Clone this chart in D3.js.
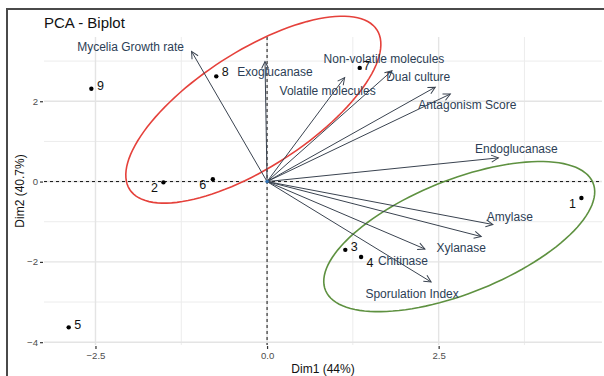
<!DOCTYPE html>
<html>
<head>
<meta charset="utf-8">
<script src="https://cdn.jsdelivr.net/npm/d3@7"></script>
<style>
  html, body { margin: 0; padding: 0; background: #fff; }
  svg { display: block; font-family: "Liberation Sans", Arial, sans-serif; }
</style>
</head>
<body>
<svg id="chart" width="604" height="376"></svg>
<script>
// Individuals (isolates) – coordinates on Dim1 / Dim2
const indLabels = ["1", "2", "3", "4", "5", "6", "7", "8", "9"];
const indDim1   = [4.58, -1.51, 1.14, 1.37, -2.89, -0.79, 1.35, -0.74, -2.56];
const indDim2   = [-0.41, -0.02, -1.70, -1.88, -3.63, 0.06, 2.83, 2.62, 2.31];

// Variables – loading arrows
const varNames = ["Mycelia Growth rate", "Exoglucanase", "Volatile molecules",
  "Non-volatile molecules", "Dual culture", "Antagonism Score", "Endoglucanase",
  "Amylase", "Xylanase", "Chitinase", "Sporulation Index"];
const varDim1 = [-1.10, -0.03, 1.13, 1.82, 2.45, 2.67, 3.37, 3.29, 3.12, 2.30, 2.39];
const varDim2 = [3.24, 2.99, 2.59, 2.76, 2.35, 2.18, 0.59, -1.07, -1.37, -1.68, -2.50];

// Group concentration ellipses (centre, semi-axes and tilt in Dim units)
const ellGroups = ["A", "B"];
const ellCx    = [-0.20, 2.80];
const ellCy    = [1.79, -1.37];
const ellA     = [2.76, 2.43];
const ellB     = [1.12, 1.22];
const ellAngle = [54, 42.4];

// Axis ticks
const xMajor = [-2.5, 0, 2.5];
const xMinor = [-1.25, 1.25, 3.75];
const yMajor = [-4, -2, 0, 2];
const yMinor = [-3, -1, 1, 3];

// Label placement (pixel nudges from the mark)
const indNudge = {"1": [-9, 6], "2": [-9, 6], "3": [9, -3], "4": [9, 6], "5": [9, -2],
                  "6": [-10, 6], "7": [7, -2], "8": [9, -4], "9": [9, -3]};
const varNudge = {"Mycelia Growth rate": [-61, -4], "Exoglucanase": [10, 11],
  "Volatile molecules": [-17, 13], "Non-volatile molecules": [-8, -12],
  "Dual culture": [-17, -10], "Antagonism Score": [17, 11], "Endoglucanase": [18, -9],
  "Amylase": [17, -8], "Xylanase": [-20, 11], "Chitinase": [-22, 12],
  "Sporulation Index": [-19, 12]};
const ellColors = {"A": "#e5413b", "B": "#5e9140"};

const svg = d3.select("#chart");
const panel = {left: 44, right: 602, top: 37, bottom: 345};

const x = d3.scaleLinear().domain([-3.25, 4.88]).range([panel.left, panel.right]);
const y = d3.scaleLinear().domain([-4.07, 3.6]).range([panel.bottom, panel.top]);

// outer frame
svg.append("rect").attr("x", 7).attr("y", 9).attr("width", 640).attr("height", 420)
  .attr("fill", "none").attr("stroke", "#4a4a4a").attr("stroke-width", 2);

// grid
const grid = svg.append("g");
grid.selectAll(".gxm").data(xMinor).join("line")
  .attr("x1", d => x(d)).attr("x2", d => x(d)).attr("y1", panel.top).attr("y2", panel.bottom)
  .attr("stroke", "#ececec").attr("stroke-width", 1);
grid.selectAll(".gym").data(yMinor).join("line")
  .attr("y1", d => y(d)).attr("y2", d => y(d)).attr("x1", panel.left).attr("x2", panel.right)
  .attr("stroke", "#ececec").attr("stroke-width", 1);
grid.selectAll(".gx").data(xMajor).join("line")
  .attr("x1", d => x(d)).attr("x2", d => x(d)).attr("y1", panel.top).attr("y2", panel.bottom)
  .attr("stroke", "#e4e4e4").attr("stroke-width", 1.4);
grid.selectAll(".gy").data(yMajor).join("line")
  .attr("y1", d => y(d)).attr("y2", d => y(d)).attr("x1", panel.left).attr("x2", panel.right)
  .attr("stroke", "#e4e4e4").attr("stroke-width", 1.4);

// axes
const xAxis = d3.axisBottom(x).tickValues(xMajor).tickFormat(d3.format(".1f")).tickSize(3).tickPadding(3);
const yAxis = d3.axisLeft(y).tickValues(yMajor).tickFormat(d3.format("d")).tickSize(3).tickPadding(2);
const gx = svg.append("g").attr("transform", `translate(0,${y(-4.07) + 1})`).call(xAxis);
const gy = svg.append("g").attr("transform", `translate(${panel.left - 1},0)`).call(yAxis);
[gx, gy].forEach(g => {
  g.select(".domain").remove();
  g.selectAll(".tick line").attr("stroke", "#333").attr("stroke-width", 1.2);
  g.selectAll(".tick text").attr("fill", "#4d4d4d").style("font-size", "9.6px")
    .style("font-family", "'Liberation Sans', Arial, sans-serif");
});

// reference lines through the origin
svg.append("line").attr("x1", panel.left).attr("x2", panel.right).attr("y1", y(0)).attr("y2", y(0))
  .attr("stroke", "#111").attr("stroke-dasharray", "3,3").attr("stroke-width", 1);
svg.append("line").attr("x1", x(0)).attr("x2", x(0)).attr("y1", panel.top).attr("y2", panel.bottom)
  .attr("stroke", "#111").attr("stroke-dasharray", "3,3").attr("stroke-width", 1);

// ellipses
const ellData = ellGroups.map((g, i) => ({g, cx: ellCx[i], cy: ellCy[i], a: ellA[i], b: ellB[i], ang: ellAngle[i]}));
svg.selectAll(".ell").data(ellData).join("path")
  .attr("fill", "none").attr("stroke", d => ellColors[d.g]).attr("stroke-width", 1.6)
  .attr("d", d => {
    const th = d.ang * Math.PI / 180;
    const pts = d3.range(0, 361, 3).map(t => {
      const r = t * Math.PI / 180;
      const ex = d.a * Math.cos(r), ey = d.b * Math.sin(r);
      return [x(d.cx + ex * Math.cos(th) - ey * Math.sin(th)),
              y(d.cy + ex * Math.sin(th) + ey * Math.cos(th))];
    });
    return d3.line()(pts) + "Z";
  });

// arrowhead
svg.append("defs").append("marker").attr("id", "arrow")
  .attr("viewBox", "-8 -5 10 10").attr("refX", 0).attr("refY", 0)
  .attr("markerWidth", 10).attr("markerHeight", 10).attr("markerUnits", "userSpaceOnUse")
  .attr("orient", "auto")
  .append("path").attr("d", "M-7,-3.5L0,0L-7,3.5").attr("fill", "none")
  .attr("stroke", "#3a4350").attr("stroke-width", 1);

const vars = varNames.map((n, i) => ({n, d1: varDim1[i], d2: varDim2[i]}));
svg.selectAll(".arrow").data(vars).join("line")
  .attr("x1", x(0)).attr("y1", y(0)).attr("x2", d => x(d.d1)).attr("y2", d => y(d.d2))
  .attr("stroke", "#3a4350").attr("stroke-width", 1).attr("marker-end", "url(#arrow)");
svg.append("circle").attr("cx", x(0)).attr("cy", y(0)).attr("r", 1.8).attr("fill", "#2f6fb0");

svg.selectAll(".vlab").data(vars).join("text")
  .attr("x", d => x(d.d1) + varNudge[d.n][0]).attr("y", d => y(d.d2) + varNudge[d.n][1])
  .attr("text-anchor", "middle").attr("dominant-baseline", "central")
  .attr("fill", "#2c3e55").style("font-size", "12px").text(d => d.n);

// individuals
const inds = indLabels.map((l, i) => ({l, d1: indDim1[i], d2: indDim2[i]}));
svg.selectAll(".pt").data(inds).join("circle")
  .attr("cx", d => x(d.d1)).attr("cy", d => y(d.d2)).attr("r", 2.2).attr("fill", "#000");
svg.selectAll(".plab").data(inds).join("text")
  .attr("x", d => x(d.d1) + indNudge[d.l][0]).attr("y", d => y(d.d2) + indNudge[d.l][1])
  .attr("text-anchor", "middle").attr("dominant-baseline", "central")
  .attr("fill", "#111").style("font-size", "12.5px").text(d => d.l);

// titles
svg.append("text").attr("x", 44).attr("y", 28).attr("fill", "#111")
  .style("font-size", "15px").text("PCA - Biplot");
svg.append("text").attr("x", (panel.left + panel.right) / 2).attr("y", 373)
  .attr("text-anchor", "middle").attr("fill", "#111").style("font-size", "12px").text("Dim1 (44%)");
svg.append("text").attr("transform", `translate(24,${(panel.top + panel.bottom) / 2}) rotate(-90)`)
  .attr("text-anchor", "middle").attr("fill", "#111").style("font-size", "12px").text("Dim2 (40.7%)");
</script>
</body>
</html>
